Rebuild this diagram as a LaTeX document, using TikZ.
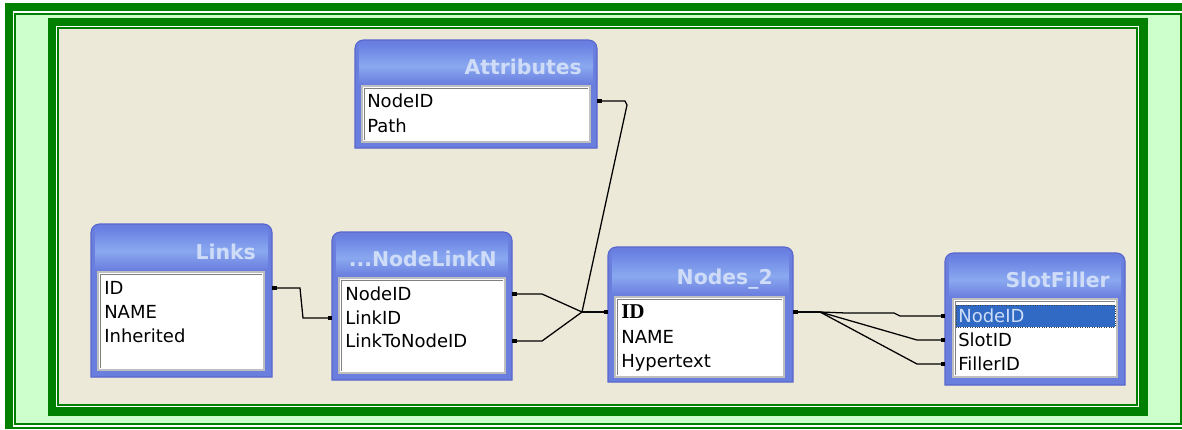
\documentclass[tikz,border=0pt]{standalone}
\usepackage{fontspec}
\setmainfont{DejaVu Sans}
\newfontfamily\keyfont{Liberation Serif}
\usetikzlibrary{arrows.meta}
\definecolor{framegreen}{RGB}{0,128,0}
\definecolor{palegreen}{RGB}{204,255,204}
\definecolor{xpbeige}{RGB}{236,233,216}
\definecolor{tableblue}{RGB}{106,126,222}
\definecolor{tableedge}{RGB}{88,102,206}
\definecolor{titletop}{RGB}{104,128,226}
\definecolor{titlemid}{RGB}{138,168,240}
\definecolor{titletext}{RGB}{206,220,248}
\definecolor{selblue}{RGB}{49,106,197}

\begin{document}
\begin{tikzpicture}[x=0.025cm, y=-0.025cm,
    tablebody/.style={fill=tableblue, draw=tableedge, line width=0.8pt},
    fieldbox/.style={fill=white, draw=gray!50, line width=0.8pt},
    title/.style={anchor=east, inner sep=0pt, text height=10.6pt, text depth=0pt,
      text=titletext, font=\fontsize{14.5}{16}\selectfont\bfseries},
    field/.style={anchor=west, inner sep=0pt, text height=9.3pt, text depth=0pt,
      font=\fontsize{12.8}{14}\selectfont},
    link/.style={line width=0.9pt, {Square[length=3.2pt,width=3.2pt]}-{Square[length=3.2pt,width=3.2pt]}}]
        \useasboundingbox (0,0) rectangle (1182,429);

        % outer frame
        \fill[white] (0,0) rectangle (1182,429);
        \fill[framegreen] (5,3) rectangle (1182,11);
        \fill[framegreen] (5,3) rectangle (13,429);
        \fill[palegreen] (15,14) rectangle (1181,424);
        \draw[framegreen, line width=1.4pt] (15,14) rectangle (1180.5,424);
        \draw[framegreen, line width=1.4pt] (13,428) -- (1182,428);

        % inner frame
        \fill[framegreen] (48,18) rectangle (1148,416);
        \fill[white] (56,26) rectangle (1139,407);
        \fill[framegreen] (57,27) rectangle (1138,406);
        \fill[xpbeige] (59,29) rectangle (1136,404);

        % Attributes
        \draw[tablebody] (355,148) [rounded corners=6pt] -- (355,40) -- (597,40) [sharp corners] -- (597,148) -- cycle;
        \shade[top color=titletop, bottom color=titlemid] (359,44) rectangle (593,66);
        \shade[top color=titlemid, bottom color=tableblue] (359,66) rectangle (593,84);
        \draw[fieldbox] (362,86) rectangle (590,142);
        \draw[gray] (364,140) -- (364,88) -- (588,88);
        \node[title] (attr) at (582,67) {Attributes};
        \node[field] (attr-nodeid) at (367,101) {NodeID};
        \node[field] (attr-path) at (367,126) {Path};

        % Links
        \draw[tablebody] (91,377) [rounded corners=6pt] -- (91,224) -- (272,224) [sharp corners] -- (272,377) -- cycle;
        \shade[top color=titletop, bottom color=titlemid] (95,228) rectangle (268,251);
        \shade[top color=titlemid, bottom color=tableblue] (95,251) rectangle (268,270);
        \draw[fieldbox] (98,272) rectangle (264,370);
        \draw[gray] (100,368) -- (100,274) -- (262,274);
        \node[title] (links) at (256,252) {Links};
        \node[field] (links-id) at (104,288) {ID};
        \node[field] (links-name) at (104,312) {NAME};
        \node[field] (links-inherited) at (104,336) {Inherited};

        % NodeLinkN
        \draw[tablebody] (332,380) [rounded corners=6pt] -- (332,232) -- (512,232) [sharp corners] -- (512,380) -- cycle;
        \shade[top color=titletop, bottom color=titlemid] (336,236) rectangle (508,258);
        \shade[top color=titlemid, bottom color=tableblue] (336,258) rectangle (508,276);
        \draw[fieldbox] (339,278) rectangle (505,373);
        \draw[gray] (341,371) -- (341,280) -- (503,280);
        \node[title] (nlink) at (497,259) {...NodeLinkN};
        \node[field] (nlink-nodeid) at (345,294) {NodeID};
        \node[field] (nlink-linkid) at (345,318) {LinkID};
        \node[field] (nlink-linktonodeid) at (345,341) {LinkToNodeID};

        % Nodes_2
        \draw[tablebody] (608,382) [rounded corners=6pt] -- (608,247) -- (793,247) [sharp corners] -- (793,382) -- cycle;
        \shade[top color=titletop, bottom color=titlemid] (612,251) rectangle (789,276);
        \shade[top color=titlemid, bottom color=tableblue] (612,276) rectangle (789,295);
        \draw[fieldbox] (615,297) rectangle (784,377);
        \draw[gray] (617,375) -- (617,299) -- (782,299);
        \node[title] (nodes) at (773,277) {Nodes\_2};
        \node[field] (nodes-id) at (621,312) {\keyfont\fontsize{15}{16}\selectfont\bfseries ID};
        \node[field] (nodes-name) at (621,337) {NAME};
        \node[field] (nodes-hypertext) at (621,361) {Hypertext};

        % SlotFiller
        \draw[tablebody] (945,385) [rounded corners=6pt] -- (945,253) -- (1125,253) [sharp corners] -- (1125,385) -- cycle;
        \shade[top color=titletop, bottom color=titlemid] (949,257) rectangle (1121,280);
        \shade[top color=titlemid, bottom color=tableblue] (949,280) rectangle (1121,297);
        \draw[fieldbox] (953,299) rectangle (1117,377);
        \draw[gray] (955,375) -- (955,301) -- (1115,301);
        \fill[selblue] (956,305) rectangle (1115,327);
        \draw[densely dotted, line width=0.7pt, black!75] (956,305) rectangle (1115,327);
        \node[title] (slot) at (1110,280) {SlotFiller};
        \node[field, text=titletext] (slot-nodeid) at (958,316) {NodeID};
        \node[field] (slot-slotid) at (958,340) {SlotID};
        \node[field] (slot-fillerid) at (958,364) {FillerID};

        % table edges and joins
        \coordinate (attr-r) at (597,0);
        \coordinate (links-r) at (272,0);
        \coordinate (nlink-l) at (332,0);
        \coordinate (nlink-r) at (512,0);
        \coordinate (nodes-l) at (608,0);
        \coordinate (nodes-r) at (793,0);
        \coordinate (slot-l) at (945,0);
        \coordinate (jn) at (582,312);
        \coordinate (js) at (820,312);

        % relationships
        \draw[link] (links-id -| links-r) -- ++(28,0) -- ++(3,30) -- (nlink-linkid -| nlink-l);
        \draw[link] (nlink-nodeid -| nlink-r) -- ++(30,0) -- (jn) -- (nodes-id -| nodes-l);
        \draw[link] (nlink-linktonodeid -| nlink-r) -- ++(30,0) -- (jn) -- (nodes-id -| nodes-l);
        \draw[link] (attr-nodeid -| attr-r) -- ++(28,0) -- ++(2,4) -- (jn) -- (nodes-id -| nodes-l);
        \draw[link] (nodes-id -| nodes-r) -- (js) -- ++(26,1) -- ++(48,0) -- ++(6,3) -- (slot-nodeid -| slot-l);
        \draw[link] (nodes-id -| nodes-r) -- (js) -- ++(97,28) -- (slot-slotid -| slot-l);
        \draw[link] (nodes-id -| nodes-r) -- (js) -- ++(97,52) -- (slot-fillerid -| slot-l);
      \end{tikzpicture}
\end{document}
